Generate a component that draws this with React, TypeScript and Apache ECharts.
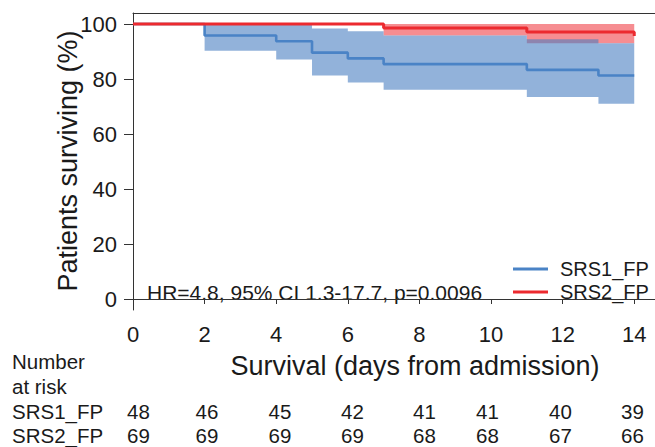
import React, { useEffect, useRef } from "react";
import * as echarts from "echarts";

// Kaplan–Meier survival estimates (%) at each event time (days from admission)
const srs1Times = [0, 2, 4, 5, 6, 7, 11, 13, 14];
const srs1Surv = [100, 95.83, 93.75, 89.58, 87.5, 85.42, 83.33, 81.25, 81.25];
const srs1Lower = [100, 90.3, 87.1, 81.3, 78.7, 76.1, 73.5, 71.0, 71.0];
const srs1Upper = [100, 100, 100, 98.4, 97.4, 95.8, 94.5, 93.0, 93.0];

const srs2Times = [0, 7, 11, 14];
const srs2Surv = [100, 98.55, 97.1, 95.65];
const srs2Lower = [100, 95.8, 93.0, 93.0];
const srs2Upper = [100, 100, 100, 100];

// Number at risk table
const riskTimes = [0, 2, 4, 6, 8, 10, 12, 14];
const riskSRS1 = [48, 46, 45, 42, 41, 41, 40, 39];
const riskSRS2 = [69, 69, 69, 69, 68, 68, 67, 66];

const xTicks = [0, 2, 4, 6, 8, 10, 12, 14];
const yTicks = [0, 20, 40, 60, 80, 100];

const seriesNames = ["SRS1_FP", "SRS2_FP"];
const annotation = "HR=4.8, 95% CI 1.3-17.7, p=0.0096";

const FONT = "'Liberation Sans', Arial, Helvetica, sans-serif";
const TEXT = "#1a1a1a";
const AXIS = "#333333";
const BLUE = "#4a83c6";
const RED = "#ec2a2f";

// Horizontal centres of the at-risk counts (layout)
const riskX = [138.5, 207, 280, 352.5, 424.5, 487.5, 560.5, 632.5];

const pairs = (xs: number[], ys: number[]) => xs.map((x, i) => [x, ys[i]]);

// Step-shaped confidence band drawn as a single polygon through the axes
function bandSeries(
  name: string,
  xs: number[],
  lo: number[],
  hi: number[],
  color: string,
  opacity: number
) {
  return {
    name,
    type: "custom",
    silent: true,
    data: [[xs[0], lo[0]]],
    renderItem: (_params: any, api: any) => {
      const top: number[][] = [];
      const bottom: number[][] = [];
      for (let i = 0; i < xs.length - 1; i++) {
        top.push(api.coord([xs[i], hi[i]]));
        top.push(api.coord([xs[i + 1], hi[i]]));
        bottom.push(api.coord([xs[i], lo[i]]));
        bottom.push(api.coord([xs[i + 1], lo[i]]));
      }
      const points = top.concat(bottom.reverse());
      return {
        type: "polygon",
        shape: { points },
        style: { fill: color, opacity },
      };
    },
  };
}

export default function App() {
  const ref = useRef<HTMLDivElement>(null);

  useEffect(() => {
    document.body.style.margin = "0";
    if (!ref.current) return;
    const chart = echarts.init(ref.current, undefined, { renderer: "svg" });

    const txt = (x: number, y: number, text: string, size: number, align = "left") => ({
      type: "text",
      x,
      y,
      style: {
        text,
        font: `${size}px ${FONT}`,
        fill: TEXT,
        textAlign: align,
        textVerticalAlign: "middle",
      },
    });

    const graphics: any[] = [
      {
        type: "text",
        x: 68,
        y: 161,
        rotation: Math.PI / 2,
        style: {
          text: "Patients surviving (%)",
          font: `27px ${FONT}`,
          fill: TEXT,
          textAlign: "center",
          textVerticalAlign: "middle",
        },
      },
      txt(415, 366, "Survival (days from admission)", 27, "center"),
      txt(147, 292, annotation, 21),
      txt(12, 361, "Number", 20.5),
      txt(12, 386, "at risk", 20.5),
      txt(12, 411, seriesNames[0], 20.5),
      txt(12, 435, seriesNames[1], 20.5),
    ];
    riskTimes.forEach((_, i) => {
      graphics.push(txt(riskX[i], 411, String(riskSRS1[i]), 20.5, "center"));
      graphics.push(txt(riskX[i], 435, String(riskSRS2[i]), 20.5, "center"));
    });

    chart.setOption({
      animation: false,
      grid: { left: 133, right: 0, top: 13, bottom: 137 },
      legend: {
        data: seriesNames,
        orient: "vertical",
        left: 508,
        top: 254,
        itemWidth: 35,
        itemHeight: 3,
        itemGap: 3,
        icon: "rect",
        textStyle: {
          fontFamily: FONT,
          fontSize: 20,
          color: TEXT,
          padding: [0, 0, 0, 7],
        },
      },
      xAxis: [
        {
          type: "value",
          min: 0,
          max: 14.58,
          splitLine: { show: false },
          axisLine: { show: true, lineStyle: { color: AXIS, width: 1 } },
          axisTick: {
            show: true,
            length: 5,
            lineStyle: { color: AXIS },
            customValues: xTicks,
          },
          axisLabel: {
            customValues: xTicks,
            fontFamily: FONT,
            fontSize: 22,
            color: TEXT,
            margin: 13,
          },
        },
        {
          type: "value",
          position: "top",
          min: 0,
          max: 14.58,
          splitLine: { show: false },
          axisLine: { show: true, lineStyle: { color: AXIS, width: 1 } },
          axisTick: { show: false },
          axisLabel: { show: false },
        },
      ],
      yAxis: {
        type: "value",
        min: -4,
        max: 104,
        splitLine: { show: false },
        axisLine: { show: true, lineStyle: { color: AXIS, width: 1 } },
        axisTick: {
          show: true,
          length: 9,
          lineStyle: { color: AXIS },
          customValues: yTicks,
        },
        axisLabel: {
          customValues: yTicks,
          fontFamily: FONT,
          fontSize: 22,
          color: TEXT,
          margin: 16,
        },
      },
      series: [
        bandSeries("srs2_ci", srs2Times, srs2Lower, srs2Upper, "#ed1c24", 0.5),
        bandSeries("srs1_ci", srs1Times, srs1Lower, srs1Upper, "#4a7ec1", 0.6),
        {
          name: seriesNames[0],
          type: "line",
          step: "end",
          symbol: "none",
          color: BLUE,
          data: pairs(srs1Times, srs1Surv),
          lineStyle: { color: BLUE, width: 2.6 },
        },
        {
          name: seriesNames[1],
          type: "line",
          step: "end",
          symbol: "none",
          color: RED,
          data: pairs(srs2Times, srs2Surv),
          lineStyle: { color: RED, width: 3 },
        },
      ],
      graphic: graphics,
    });

    return () => chart.dispose();
  }, []);

  return <div ref={ref} style={{ width: 655, height: 447 }} />;
}
